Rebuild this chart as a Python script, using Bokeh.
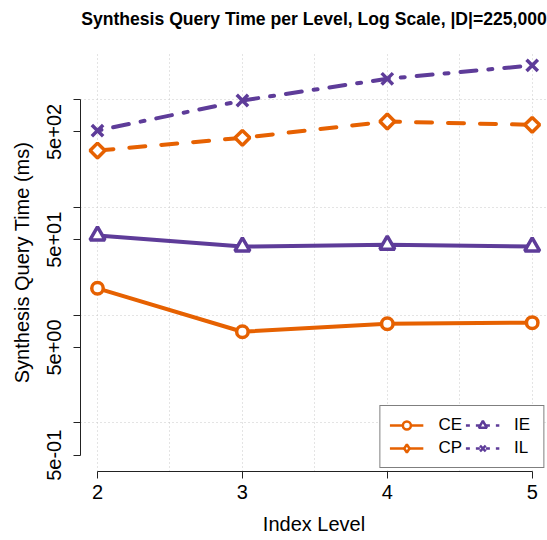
import numpy as np
from bokeh.plotting import figure
from bokeh.models import (FixedTicker, Range1d, Legend, LegendItem,
                          ColumnDataSource)
from bokeh.embed import file_html
from bokeh.resources import INLINE

# ---- data ----
levels = [2, 3, 4, 5]
ce = [17.7, 7.0, 8.3, 8.5]
cp = [336, 441, 625, 582]
ie = [54.6, 43.2, 44.8, 43.2]
il = [515, 979, 1557, 2070]

x_ticks = [2, 3, 4, 5]
x_grid = [2, 2.5, 3, 3.5, 4, 4.5, 5]
y_ticks = [0.5, 1, 5, 10, 50, 100, 500, 1000]
y_tick_labels = ["5e-01", "", "5e+00", "", "5e+01", "", "5e+02", ""]
y_grid = [1, 10, 100, 1000]

title_text = "Synthesis Query Time per Level, Log Scale, |D|=225,000"
x_label = "Index Level"
y_label = "Synthesis Query Time (ms)"

ORANGE = "#e66101"
PURPLE = "#5e3c99"
FONT = "Liberation Sans"

p = figure(width=547, height=540, output_backend="svg", toolbar_location=None,
           x_range=Range1d(1.8827, 5.1056), y_range=Range1d(0.3533, 2672),
           y_axis_type="log",
           min_border_left=80, min_border_right=0, min_border_top=53,
           min_border_bottom=69)
p.outline_line_color = None
p.background_fill_color = "white"
p.border_fill_color = "white"

# title: a trailing blank line lifts it towards the top edge
p.title.text = title_text + "\n "
p.title.text_font = FONT
p.title.text_font_size = "17.6px"
p.title.text_font_style = "bold"
p.title.text_color = "black"
p.title.align = "center"
p.title.vertical_align = "top"
p.title.standoff = 6

# axes
for ax in (p.xaxis[0], p.yaxis[0]):
    ax.axis_line_color = "#222222"
    ax.axis_line_width = 1
    ax.major_tick_line_color = "#222222"
    ax.major_tick_out = 7
    ax.major_tick_in = 0
    ax.minor_tick_out = 0
    ax.minor_tick_in = 0
    ax.major_label_text_font = FONT
    ax.major_label_text_font_size = "20px"
    ax.major_label_text_color = "black"
    ax.axis_label_text_font = FONT
    ax.axis_label_text_font_size = "20px"
    ax.axis_label_text_font_style = "normal"
    ax.axis_label_text_color = "black"

xa = p.xaxis[0]
xa.ticker = FixedTicker(ticks=x_ticks)
xa.bounds = (min(x_ticks), max(x_ticks))
xa.major_label_standoff = 6
xa.axis_label = x_label
xa.axis_label_standoff = 11

ya = p.yaxis[0]
ya.ticker = FixedTicker(ticks=y_ticks)
ya.bounds = (min(y_ticks), max(y_ticks))
ya.major_label_overrides = dict(zip(y_ticks, y_tick_labels))
ya.major_label_orientation = "vertical"
ya.major_label_standoff = 12
ya.axis_label = y_label
ya.axis_label_standoff = 12

p.xgrid.ticker = FixedTicker(ticks=x_grid)
p.ygrid.ticker = FixedTicker(ticks=y_grid)
for g in (p.xgrid[0], p.ygrid[0]):
    g.grid_line_color = "#c8c8c8"
    g.grid_line_dash = "1 3"
    g.grid_line_width = 1

src = ColumnDataSource(dict(level=levels, ce=ce, cp=cp, ie=ie, il=il))

p.line("level", "il", source=src, color=PURPLE, line_width=4,
       line_dash="4 12 16 12", line_cap="round")
p.scatter("level", "il", source=src, marker="x", size=16,
          line_color=PURPLE, line_width=3.5)

p.line("level", "cp", source=src, color=ORANGE, line_width=4,
       line_dash="16 16", line_cap="round")
p.scatter("level", "cp", source=src, marker="square", angle=np.pi / 4,
          size=10.5, line_color=ORANGE, line_width=3.5, fill_color="white")

p.line("level", "ie", source=src, color=PURPLE, line_width=4)
p.scatter("level", "ie", source=src, marker="triangle", size=15,
          line_color=PURPLE, line_width=3.5, fill_color="white")

p.line("level", "ce", source=src, color=ORANGE, line_width=4)
p.scatter("level", "ce", source=src, marker="circle", size=11.5,
          line_color=ORANGE, line_width=3.5, fill_color="white")

# legend key glyphs (renderers hold a single NaN point, so nothing is plotted)
nan_src = ColumnDataSource(dict(x=[np.nan], y=[np.nan]))
def key(color, marker, dash, size=8):
    l = p.line("x", "y", source=nan_src, color=color, line_width=2.5,
               line_dash=dash)
    s = p.scatter("x", "y", source=nan_src, marker=marker, size=size,
                  line_color=color, line_width=2.5, fill_color="white")
    return [l, s]

items = [
    LegendItem(label="CE", renderers=key(ORANGE, "circle", "solid")),
    LegendItem(label="CP", renderers=key(ORANGE, "diamond", "solid", 10)),
    LegendItem(label="IE", renderers=key(PURPLE, "triangle", "4 6")),
    LegendItem(label="IL", renderers=key(PURPLE, "x", "4 6")),
]
legend = Legend(items=items, ncols=2, location="bottom_right", margin=3,
                glyph_width=34, glyph_height=20, label_standoff=15,
                spacing=3, padding=9, label_text_font=FONT,
                label_text_font_size="17px", label_text_color="black",
                border_line_color="black", border_line_width=1,
                background_fill_color="white", background_fill_alpha=1.0)
p.add_layout(legend)

open("out.html", "w").write(file_html(p, INLINE))
